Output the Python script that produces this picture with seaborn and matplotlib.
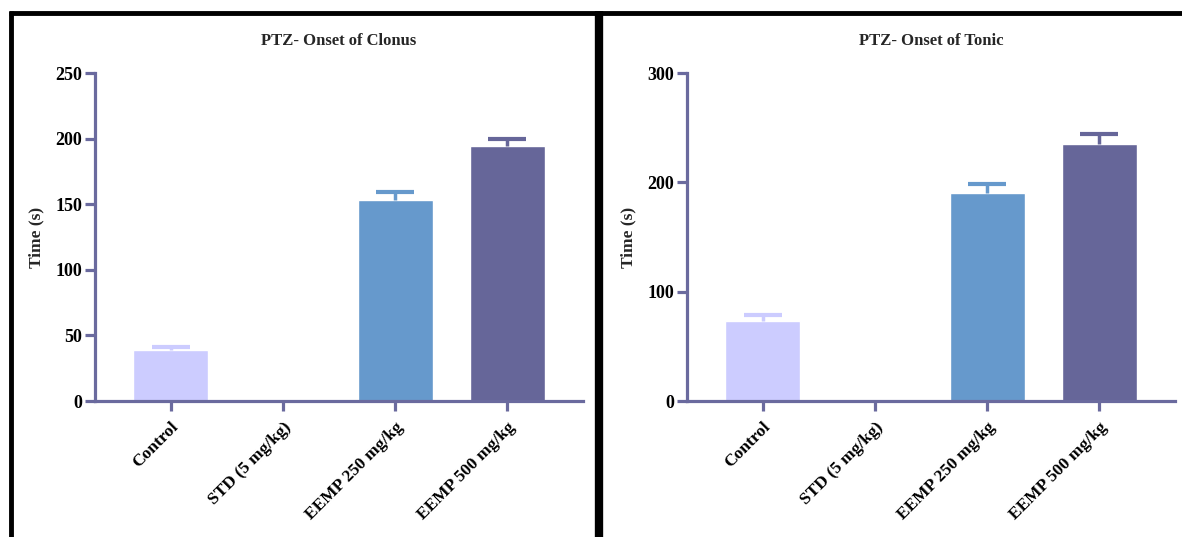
import numpy as np
import pandas as pd
import seaborn as sns
import matplotlib.pyplot as plt
from matplotlib.lines import Line2D

# groups and read-off values
groups = ['Control', 'STD (5 mg/kg)', 'EEMP 250 mg/kg', 'EEMP 500 mg/kg']
clonus_mean = [38.5, 0, 153, 194]
clonus_sem = [3, 0, 6, 6]
tonic_mean = [73, 0, 190, 235]
tonic_sem = [5.5, 0, 8.5, 9.5]
bar_colors = ['#ccccff', '#ccccff', '#6699cc', '#666699']
axis_color = '#6a6a9e'

sns.set_style('white')
plt.rcParams['font.family'] = ['Liberation Serif', 'DejaVu Serif']
plt.rcParams['font.weight'] = 'bold'

fig = plt.figure(figsize=(11.82, 5.37), dpi=100)
W, H = 1182, 537


def panel(x0, title, means, sems, ymax, ystep):
    ax = fig.add_axes([x0 / W, 1 - 401 / H, 488 / W, 328 / H])
    df = pd.DataFrame({'group': groups, 'value': means})
    sns.barplot(data=df, x='group', y='value', hue='group', palette=bar_colors,
                legend=False, width=0.67, ax=ax, saturation=1)
    # upper error bars only, in bar colour
    for i, (m, s) in enumerate(zip(means, sems)):
        if s > 0:
            ax.vlines(i, m, m + s, color=bar_colors[i], lw=2.5)
            ax.hlines(m + s, i - 0.17, i + 0.17, color=bar_colors[i], lw=3)
    ax.set_xlim(-0.675, 3.675)
    ax.set_ylim(0, ymax)
    ax.set_yticks(np.arange(0, ymax + 1, ystep))
    ax.set_title(title, fontsize=12, fontweight='bold', pad=20)
    ax.set_ylabel('Time (s)', fontsize=12.5, fontweight='bold', labelpad=8)
    ax.set_xlabel('')
    ax.set_xticks(range(len(groups)))
    ax.set_xticklabels(groups, rotation=45, ha='right', rotation_mode='anchor',
                       fontsize=12.5, fontweight='bold')
    for lab in ax.get_yticklabels():
        lab.set_fontweight('bold')
        lab.set_fontsize(13)
    for side in ['top', 'right']:
        ax.spines[side].set_visible(False)
    for side in ['left', 'bottom']:
        ax.spines[side].set_color(axis_color)
        ax.spines[side].set_linewidth(2.3)
    ax.tick_params(axis='both', direction='out', length=7, width=2.3,
                   color=axis_color, labelcolor='black', pad=2,
                   bottom=True, left=True)
    ax.tick_params(axis='x', pad=6)
    return ax


panel(95, 'PTZ- Onset of Clonus', clonus_mean, clonus_sem, 250, 50)
panel(687, 'PTZ- Onset of Tonic', tonic_mean, tonic_sem, 300, 100)

# black frame lines
frame = dict(color='black', solid_capstyle='butt', transform=fig.transFigure)
fig.add_artist(Line2D([9 / W, 1], [1 - 13 / H] * 2, lw=3.5, **frame))
fig.add_artist(Line2D([11 / W] * 2, [0, 1 - 11 / H], lw=3.5, **frame))
fig.add_artist(Line2D([599 / W] * 2, [0, 1 - 11 / H], lw=6, **frame))

fig.savefig('out.png', dpi=100, facecolor='white')
